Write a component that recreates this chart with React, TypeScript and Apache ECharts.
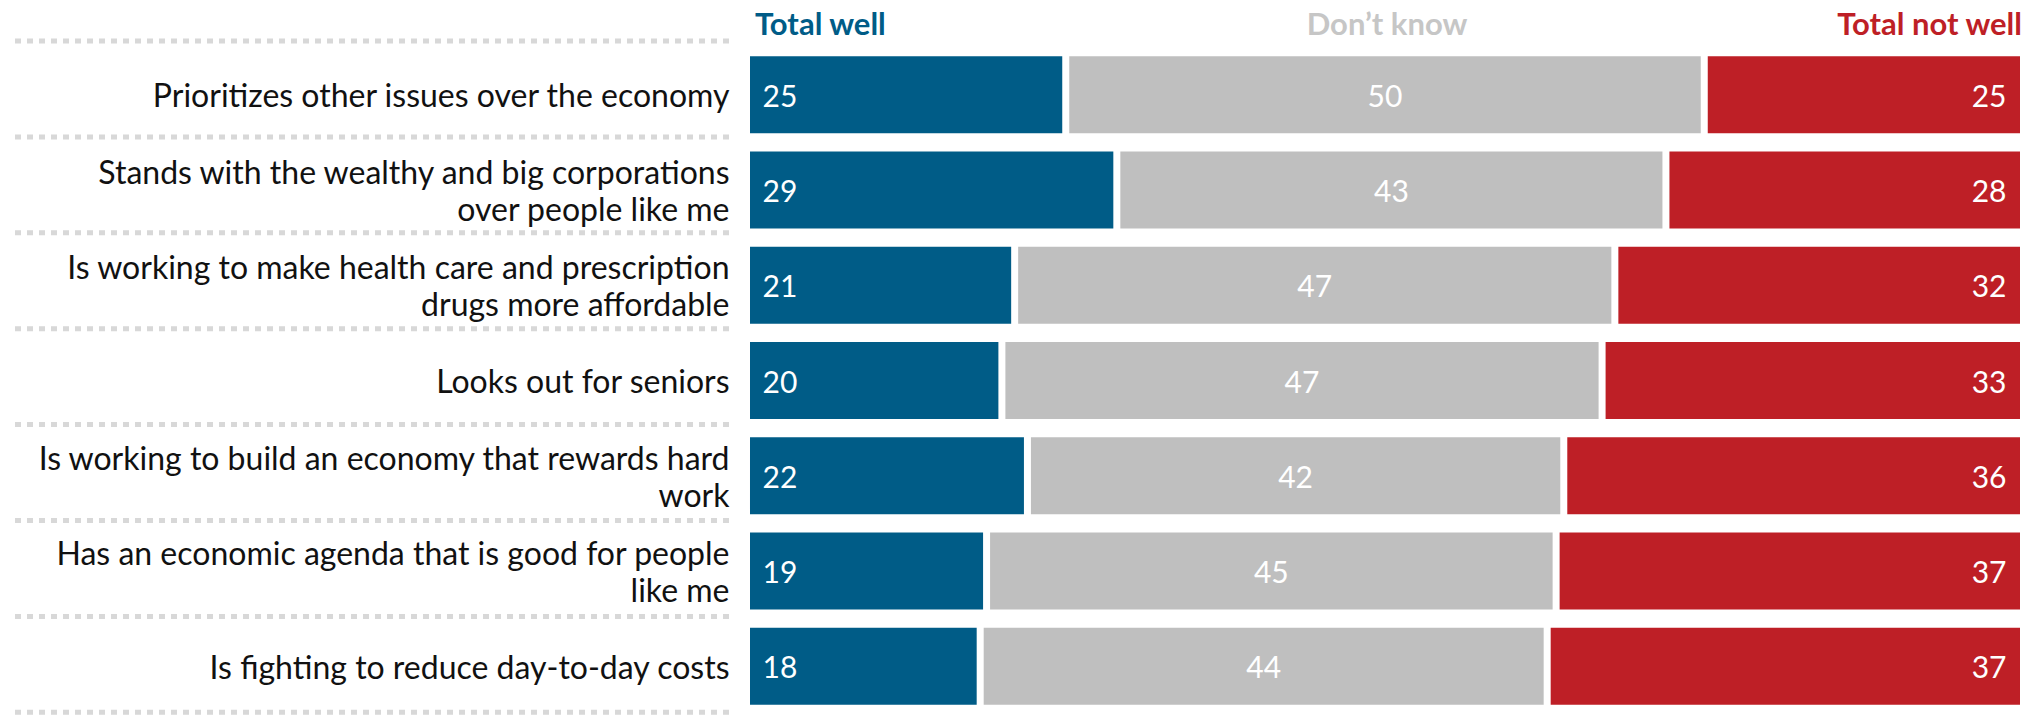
import React, { useEffect, useRef } from "react";
import * as echarts from "echarts";

const categories = [
  "Prioritizes other issues over the economy",
  "Stands with the wealthy and big corporations\nover people like me",
  "Is working to make health care and prescription\ndrugs more affordable",
  "Looks out for seniors",
  "Is working to build an economy that rewards hard\nwork",
  "Has an economic agenda that is good for people\nlike me",
  "Is fighting to reduce day-to-day costs",
];

const seriesNames = ["Total well", "Don\u2019t know", "Total not well"];
const totalWell = [25, 29, 21, 20, 22, 18.8, 18.3];
const dontKnow = [50, 43, 47, 47, 42, 44.6, 44.4];
const totalNotWell = [25, 28, 32, 33, 36, 36.6, 37.3];

const COLORS = ["#005C87", "#BFBFBF", "#BE1F26"];
const HEADER_COLORS = ["#005C87", "#C6C6C6", "#BE1F26"];
const FONT = "Lato, 'Noto Sans', sans-serif";

export default function App() {
  const ref = useRef<HTMLDivElement>(null);

  useEffect(() => {
    if (!ref.current) return;
    const chart = echarts.init(ref.current, null, { renderer: "svg" });

    const W = 2029;
    const gridLeft = 746.5;
    const gridRight = 5.5;
    const gridTop = 47;
    const gridHeight = 667;
    const sepTop = 41;
    const sepPitch = 95.9;

    const separators: any[] = [];
    for (let k = 0; k <= categories.length; k++) {
      const y = sepTop + sepPitch * k;
      separators.push({
        type: "line",
        shape: { x1: 15, y1: y, x2: 731, y2: y },
        style: { stroke: "#D8D8D8", lineWidth: 5, lineDash: [6, 6] },
        silent: true,
      });
    }

    const headerFont = { fontFamily: FONT, fontSize: 31, fontWeight: "bold" as const };
    const headers = [
      { type: "text", x: 755, y: 23, style: { text: seriesNames[0], fill: HEADER_COLORS[0], align: "left", verticalAlign: "middle", ...headerFont } },
      { type: "text", x: 1387, y: 23, style: { text: seriesNames[1], fill: HEADER_COLORS[1], align: "center", verticalAlign: "middle", ...headerFont } },
      { type: "text", x: W - 7, y: 23, style: { text: seriesNames[2], fill: HEADER_COLORS[2], align: "right", verticalAlign: "middle", ...headerFont } },
    ];

    const valueLabel = (position: string, distance: number) => ({
      show: true,
      position,
      distance,
      color: "#FFFFFF",
      fontFamily: FONT,
      fontSize: 30,
      formatter: (p: any) => String(Math.round(p.value)),
    });

    const barCommon = {
      type: "bar",
      stack: "total",
      barWidth: 84,
      itemStyle: { borderColor: "#FFFFFF", borderWidth: 3.5 },
    };

    chart.setOption({
      animation: false,
      grid: { left: gridLeft, right: gridRight, top: gridTop, height: gridHeight, containLabel: false },
      xAxis: { type: "value", min: 0, max: 100, show: false },
      yAxis: {
        type: "category",
        data: categories,
        inverse: true,
        axisLine: { show: false },
        axisTick: { show: false },
        splitLine: { show: false },
        axisLabel: {
          margin: 17,
          color: "#111111",
          fontFamily: FONT,
          fontSize: 32,
          lineHeight: 37,
          align: "right",
        },
      },
      graphic: [...separators, ...headers],
      series: [
        { ...barCommon, name: seriesNames[0], data: totalWell, itemStyle: { ...barCommon.itemStyle, color: COLORS[0] }, label: valueLabel("insideLeft", 16) },
        { ...barCommon, name: seriesNames[1], data: dontKnow, itemStyle: { ...barCommon.itemStyle, color: COLORS[1] }, label: valueLabel("inside", 0) },
        { ...barCommon, name: seriesNames[2], data: totalNotWell, itemStyle: { ...barCommon.itemStyle, color: COLORS[2] }, label: valueLabel("insideRight", 17) },
      ],
    });

    return () => chart.dispose();
  }, []);

  return (
    <div
      ref={ref}
      style={{ position: "fixed", left: 0, top: 0, width: 2029, height: 715, background: "#FFFFFF" }}
    />
  );
}
